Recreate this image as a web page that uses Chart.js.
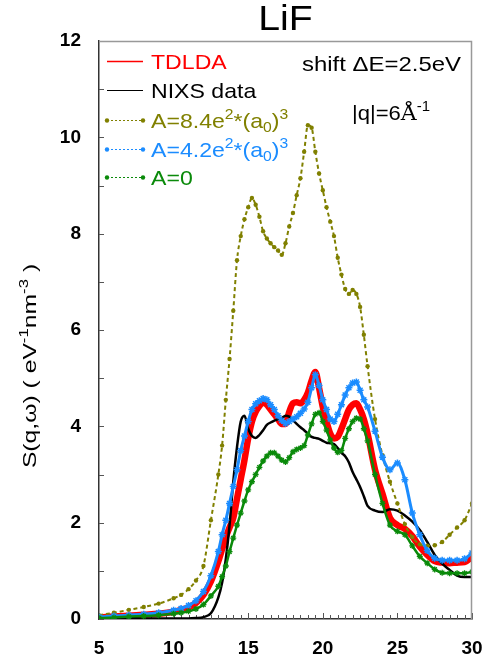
<!DOCTYPE html>
<html>
<head>
<meta charset="utf-8">
<script src="https://cdn.jsdelivr.net/npm/chart.js@4.4.1/dist/chart.umd.min.js"></script>
<style>
  body { margin: 0; background: #fff; }
</style>
</head>
<body>
<canvas id="lifChart" width="483" height="657"></canvas>
<script>
// energy loss (eV)
const energies = [5, 6, 7, 8, 9, 10, 10.5, 11, 11.5, 12, 12.5,
  13, 13.25, 13.5, 13.75, 14, 14.25, 14.5, 14.75, 15, 15.25, 15.5, 15.75, 16, 16.25, 16.5, 16.75,
  17, 17.25, 17.5, 17.75, 18, 18.25, 18.5, 18.75, 19, 19.25, 19.5, 19.75, 20, 20.25, 20.5, 20.75,
  21, 21.25, 21.5, 21.75, 22, 22.25, 22.5, 22.75, 23,
  23.5, 24, 24.5, 25, 25.5, 26, 26.5, 27, 27.5, 28, 28.5, 29, 29.5, 30];

const tdlda = [0.03, 0.05, 0.07, 0.09, 0.11, 0.15, 0.19, 0.24, 0.33, 0.5, 0.78,
  1.2, 1.45, 1.7, 1.9, 2.1, 2.5, 2.9, 3.3, 3.75, 4.1, 4.3, 4.42, 4.5, 4.45, 4.35, 4.25,
  4.15, 4.05, 4.05, 4.3, 4.48, 4.5, 4.48, 4.55, 4.7, 4.95, 5.13, 4.8, 4.4, 4.1, 3.85, 3.75,
  3.78, 3.95, 4.15, 4.35, 4.45, 4.48, 4.35, 4.15, 3.85,
  3.1, 2.6, 2.1, 1.95, 1.87, 1.72, 1.5, 1.33, 1.2, 1.17, 1.16, 1.17, 1.18, 1.29];

const nixs = [0.02, 0.02, 0.02, 0.01, 0.01, 0.01, 0.01, 0.01, 0.02, 0.04, 0.12,
  0.45, 0.75, 1.25, 1.95, 2.85, 3.57, 4.1, 4.22, 3.95, 3.8, 3.76, 3.82, 3.92, 4.03, 4.08, 4.12,
  4.15, 4.17, 4.22, 4.2, 4.13, 4.05, 3.98, 3.92, 3.85, 3.78, 3.76, 3.74, 3.7, 3.66, 3.65, 3.63,
  3.55, 3.45, 3.38, 3.25, 3.05, 2.9, 2.74, 2.55, 2.35,
  2.25, 2.22, 2.28, 2.25, 2.15, 2.02, 1.85, 1.6, 1.33, 1.15, 1.02, 0.9, 0.87, 0.87];

const a84 = [0.08, 0.13, 0.19, 0.25, 0.32, 0.43, 0.5, 0.62, 0.8, 1.1, 2.05,
  3.0, 3.6, 4.55, 5.4, 6.4, 7.45, 7.95, 8.3, 8.55, 8.74, 8.6, 8.35, 8.05, 7.9, 7.8, 7.72,
  7.65, 7.56, 7.8, 8.15, 8.43, 8.8, 9.15, 9.7, 10.25, 10.2, 9.7, 9.25, 8.9, 8.55, 8.25, 7.95,
  7.5, 7.15, 6.85, 6.75, 6.83, 6.75, 6.48, 5.9, 5.25,
  4.15, 3.4, 2.85, 2.4, 1.97, 1.7, 1.55, 1.52, 1.53, 1.6, 1.75, 1.9, 2.05, 2.4];

const a42 = [0.04, 0.06, 0.08, 0.1, 0.13, 0.18, 0.22, 0.28, 0.38, 0.57, 0.9,
  1.4, 1.75, 2.05, 2.4, 2.75, 3.1, 3.5, 3.8, 4.1, 4.35, 4.47, 4.53, 4.58, 4.55, 4.45, 4.35,
  4.22, 4.12, 4.06, 4.1, 4.15, 4.2, 4.27, 4.36, 4.5, 4.8, 5.07, 4.85, 4.55, 4.35, 4.15, 4.1,
  4.25, 4.45, 4.65, 4.8, 4.9, 4.92, 4.75, 4.55, 4.4,
  3.9, 3.36, 3.1, 3.24, 2.89, 2.2, 1.75, 1.42, 1.26, 1.22, 1.22, 1.22, 1.25, 1.37];

const a0 = [0.02, 0.03, 0.05, 0.06, 0.08, 0.11, 0.13, 0.16, 0.21, 0.3, 0.48,
  0.68, 0.88, 1.1, 1.4, 1.68, 1.95, 2.2, 2.45, 2.68, 2.85, 3.0, 3.15, 3.28, 3.38, 3.45, 3.45,
  3.38, 3.3, 3.26, 3.35, 3.47, 3.52, 3.55, 3.6, 3.82, 4.05, 4.25, 4.28, 4.1, 3.92, 3.72, 3.55,
  3.46, 3.5, 3.75, 3.95, 4.1, 4.17, 4.15, 3.95, 3.7,
  3.0, 2.4, 1.95, 1.82, 1.75, 1.52, 1.3, 1.16, 1.03, 0.96, 0.95, 0.95, 0.95, 0.98];

const xTicks = [5, 10, 15, 20, 25, 30];
const yTicks = [0, 2, 4, 6, 8, 10, 12];

const RED = '#ff0000', OLIVE = '#808000', BLUE = '#1b8cff', GREEN = '#0a8a0a';
const FONT = 'Liberation Sans, Arial, sans-serif';

function pts(ys) {
  return energies.map((e, i) => ({ x: e, y: ys[i] }));
}

// text runs with superscripts / subscripts, sx = horizontal stretch
function richText(ctx, x, y, runs, size, color, sx) {
  sx = sx || 1;
  ctx.save();
  ctx.translate(x, y);
  ctx.scale(sx, 1);
  ctx.fillStyle = color;
  ctx.textBaseline = 'alphabetic';
  ctx.textAlign = 'left';
  let cx = 0;
  runs.forEach(r => {
    let fs = size, dy = 0;
    if (r.s === 'sup') { fs = size * 0.68; dy = -size * 0.42; }
    if (r.s === 'sub') { fs = size * 0.68; dy = size * 0.22; }
    ctx.font = fs + 'px ' + (r.f || FONT);
    ctx.fillText(r.t, cx, dy);
    cx += ctx.measureText(r.t).width;
  });
  ctx.restore();
  return cx * sx;
}

function richWidth(ctx, runs, size) {
  let w = 0;
  ctx.save();
  runs.forEach(r => {
    const fs = (r.s ? size * 0.68 : size);
    ctx.font = fs + 'px ' + (r.f || FONT);
    w += ctx.measureText(r.t).width;
  });
  ctx.restore();
  return w;
}

const decorations = {
  id: 'decorations',
  beforeDatasetsDraw(chart) {
    const ctx = chart.ctx;
    const xs = chart.scales.x, ys = chart.scales.y;
    const a = chart.chartArea;
    ctx.save();
    ctx.strokeStyle = '#555';
    ctx.lineWidth = 1;
    // ticks pointing inward
    for (let v = 5; v <= 30.001; v += 0.5) {
      const px = Math.round(xs.getPixelForValue(v)) + 0.5;
      const len = (Math.abs(v % 5) < 0.01) ? 6 : 4;
      ctx.beginPath();
      ctx.moveTo(px, a.bottom);
      ctx.lineTo(px, a.bottom - len);
      ctx.stroke();
    }
    for (let v = 0; v <= 12; v += 1) {
      const py = Math.round(ys.getPixelForValue(v)) + 0.5;
      ctx.beginPath();
      ctx.moveTo(a.left, py);
      ctx.lineTo(a.left + 5, py);
      ctx.stroke();
    }
    ctx.restore();
  },
  afterDraw(chart) {
    const ctx = chart.ctx;
    const a = chart.chartArea;
    ctx.save();
    // top and right frame
    ctx.strokeStyle = '#999';
    ctx.lineWidth = 1.5;
    ctx.beginPath();
    ctx.moveTo(a.left, a.top + 0.5);
    ctx.lineTo(a.right - 0.5, a.top + 0.5);
    ctx.lineTo(a.right - 0.5, a.bottom);
    ctx.stroke();

    // title
    const tw = richWidth(ctx, [{ t: 'LiF' }], 35) * 1.12;
    richText(ctx, (a.left + a.right) / 2 - tw / 2, 30, [{ t: 'LiF' }], 35, '#000', 1.12);

    // y axis title
    const yRuns = [{ t: 'S(q,ω) ( eV' }, { t: '-1', s: 'sup' }, { t: 'nm' }, { t: '-3', s: 'sup' }, { t: ' )' }];
    const ysx = 1.3;
    const yw = richWidth(ctx, yRuns, 19) * ysx;
    ctx.save();
    ctx.translate(36, 366);
    ctx.rotate(-Math.PI / 2);
    richText(ctx, -yw / 2, 0, yRuns, 19, '#000', ysx);
    ctx.restore();

    // annotations
    richText(ctx, 302, 71, [{ t: 'shift ΔE=2.5eV' }], 21, '#000', 1.14);
    richText(ctx, 352, 120, [{ t: '|q|=6' }, { t: 'Å', f: 'DejaVu Serif, serif' }, { t: '-1', s: 'sup' }], 21, '#000', 1.05);

    // legend
    const lx0 = 107, lx1 = 143, tx = 151;
    const rows = [
      { y: 61, color: RED, text: [{ t: 'TDLDA' }], solid: true, w: 1.5 },
      { y: 90, color: '#000', text: [{ t: 'NIXS data' }], solid: true, w: 1.2 },
      { y: 120, color: OLIVE, text: [{ t: 'A=8.4e' }, { t: '2', s: 'sup' }, { t: '*(a' }, { t: '0', s: 'sub' }, { t: ')' }, { t: '3', s: 'sup' }] },
      { y: 149, color: BLUE, text: [{ t: 'A=4.2e' }, { t: '2', s: 'sup' }, { t: '*(a' }, { t: '0', s: 'sub' }, { t: ')' }, { t: '3', s: 'sup' }] },
      { y: 177, color: GREEN, text: [{ t: 'A=0' }] }
    ];
    rows.forEach(r => {
      ctx.strokeStyle = r.color;
      ctx.fillStyle = r.color;
      ctx.lineWidth = r.w || 1;
      ctx.setLineDash(r.solid ? [] : [2, 2]);
      ctx.beginPath();
      ctx.moveTo(lx0, r.y + 0.5);
      ctx.lineTo(lx1, r.y + 0.5);
      ctx.stroke();
      ctx.setLineDash([]);
      if (!r.solid) {
        [lx0, lx1].forEach(px => {
          ctx.beginPath();
          ctx.arc(px, r.y + 0.5, 2.2, 0, Math.PI * 2);
          ctx.fill();
        });
      }
      richText(ctx, tx, r.y + 7.5, r.text, 21, r.color, 1.1);
    });
    ctx.restore();
  }
};

const common = { cubicInterpolationMode: 'monotone', fill: false };

const ctx = document.getElementById('lifChart').getContext('2d');
const lifChart = new Chart(ctx, {
  type: 'line',
  data: {
    datasets: [{
      ...common,
      label: 'TDLDA',
      data: pts(tdlda),
      borderColor: RED,
      borderWidth: 6.5,
      pointRadius: 0,
      order: 5
    }, {
      ...common,
      label: 'NIXS data',
      data: pts(nixs),
      borderColor: '#000',
      borderWidth: 2.5,
      pointRadius: 0,
      order: 4
    }, {
      ...common,
      label: 'A=8.4',
      data: pts(a84),
      borderColor: OLIVE,
      backgroundColor: OLIVE,
      borderWidth: 2,
      borderDash: [4, 3],
      pointStyle: 'circle',
      pointRadius: 2.2,
      pointBorderWidth: 0,
      order: 3
    }, {
      ...common,
      label: 'A=4.2',
      data: pts(a42),
      borderColor: BLUE,
      backgroundColor: BLUE,
      borderWidth: 3,
      pointStyle: 'star',
      pointRadius: 3.5,
      pointBorderWidth: 1.5,
      order: 2
    }, {
      ...common,
      label: 'A=0',
      data: pts(a0),
      borderColor: GREEN,
      backgroundColor: GREEN,
      borderWidth: 2.5,
      pointStyle: 'star',
      pointRadius: 3,
      pointBorderWidth: 1.3,
      order: 1
    }]
  },
  options: {
    responsive: false,
    animation: false,
    layout: { padding: { left: 0, right: 11, top: 41, bottom: 0 } },
    scales: {
      x: {
        type: 'linear',
        min: 5,
        max: 30,
        afterFit: s => { s.height = 38; s.paddingLeft = 0; s.paddingRight = 0; },
        afterBuildTicks: s => { s.ticks = xTicks.map(v => ({ value: v })); },
        grid: { display: false },
        border: { display: true, color: '#333', width: 1.5 },
        ticks: {
          color: '#000',
          padding: 10,
          maxRotation: 0,
          font: { family: FONT, size: 19, weight: 'bold' }
        }
      },
      y: {
        min: 0,
        max: 12,
        afterFit: s => { s.width = 99; s.paddingTop = 0; s.paddingBottom = 0; },
        afterBuildTicks: s => { s.ticks = yTicks.map(v => ({ value: v })); },
        grid: { display: false },
        border: { display: true, color: '#333', width: 1.5 },
        ticks: {
          color: '#000',
          padding: 10,
          font: { family: FONT, size: 19, weight: 'bold' }
        }
      }
    },
    plugins: {
      legend: { display: false },
      tooltip: { enabled: false }
    }
  },
  plugins: [decorations]
});
</script>
</body>
</html>
